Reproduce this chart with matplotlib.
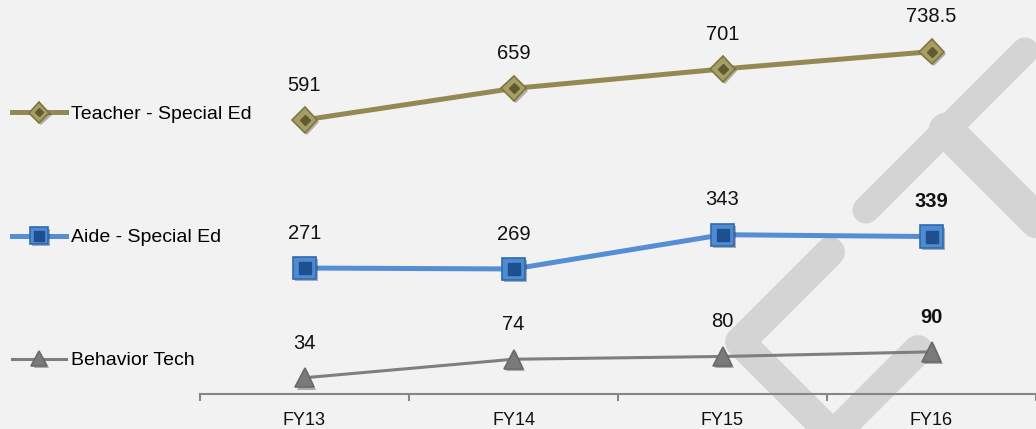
import matplotlib
matplotlib.use("Agg")
import matplotlib.pyplot as plt
import matplotlib.patheffects as pe
from matplotlib.lines import Line2D
from matplotlib.legend_handler import HandlerTuple

# ------------------------------------------------------------------
# DATA
years    = ["FY13", "FY14", "FY15", "FY16"]
teacher  = [591, 659, 701, 738.5]
aide     = [271, 269, 343, 339]
behavior = [34, 74, 80, 90]
names    = ["Teacher - Special Ed", "Aide - Special Ed", "Behavior Tech"]
# ------------------------------------------------------------------

plt.rcParams["font.family"] = ["Liberation Sans", "DejaVu Sans"]

W, H = 1036, 429
fig = plt.figure(figsize=(W / 100, H / 100), dpi=100, facecolor="#f2f2f2")

# watermark strokes (figure pixels), drawn behind the chart
def px(pts):
    return [p[0] / W for p in pts], [1 - p[1] / H for p in pts]

wm_strokes = [
    ([(830, 252), (740, 342), (833, 435), (918, 350)], 21.5),
    ([(866, 210), (1025, 51)], 19.5),
    ([(946, 130), (1110, 294)], 25),
]
for pts, lw in wm_strokes:
    xs, ys = px(pts)
    fig.add_artist(Line2D(xs, ys, transform=fig.transFigure, color="#d4d4d4",
                          lw=lw, solid_capstyle="round", solid_joinstyle="round",
                          zorder=-1))

ax = fig.add_axes([200 / W, 1 - 393.5 / H, 836 / W, 393.5 / H])
ax.set_facecolor("none")
ax.set_xlim(-0.5, -0.5 + 836 / 210.6)
ax.set_ylim(0, 850)

x = range(len(years))
shadow = [pe.SimplePatchShadow(offset=(1.5, -1.5), alpha=0.35), pe.Normal()]

styles = [
    dict(data=teacher, color="#938953", lw=3.6, marker="D", ms=13,
         mfc="#a69e64", mec="#7d7640", inner="#5f5a32", ims=5.5),
    dict(data=aide, color="#558ed5", lw=3.6, marker="s", ms=16,
         mfc="#4f8bd3", mec="#2f6aae", inner="#1f4f8e", ims=9),
    dict(data=behavior, color="#7f7f7f", lw=2.2, marker="^", ms=14,
         mfc="#7a7a7a", mec="#6a6a6a", inner=None, ims=0),
]

handles = []
for name, st in zip(names, styles):
    ln, = ax.plot(x, st["data"], color=st["color"], lw=st["lw"], zorder=3)
    mk, = ax.plot(x, st["data"], ls="none", marker=st["marker"], ms=st["ms"],
                  mfc=st["mfc"], mec=st["mec"], mew=1.2, zorder=4,
                  path_effects=shadow, clip_on=False)
    parts = [ln, mk]
    if st["inner"]:
        inn, = ax.plot(x, st["data"], ls="none", marker=st["marker"],
                       ms=st["ims"], mfc=st["inner"], mec=st["inner"], zorder=5,
                       clip_on=False)
        parts.append(inn)
    handles.append(tuple(parts))

    for i, v in enumerate(st["data"]):
        bold = (i == len(years) - 1) and name != names[0]
        ax.annotate("{:g}".format(v), (i, v), xytext=(0, 25),
                    textcoords="offset points", ha="center", va="center",
                    fontsize=14.5, color="#111111",
                    fontweight="bold" if bold else "normal")

# axis styling
for s in ["left", "right", "top"]:
    ax.spines[s].set_visible(False)
ax.spines["bottom"].set_color("#868686")
ax.spines["bottom"].set_linewidth(1.5)
ax.set_yticks([])
ax.set_xticks(list(x))
ax.set_xticklabels(years, fontsize=13, color="#111111")
ax.set_xticks([-0.5, 0.5, 1.5, 2.5, 3.5], minor=True)
ax.tick_params(axis="x", which="major", length=0, pad=13)
ax.tick_params(axis="x", which="minor", length=5, width=1.5, color="#868686",
               direction="out")

fig.legend(handles, names, loc="center left",
           bbox_to_anchor=(12 / W, 1 - 237.5 / H), frameon=False,
           fontsize=14, handlelength=2.8, handletextpad=0.25, markerscale=0.8,
           borderpad=0, borderaxespad=0, labelspacing=5.42,
           handler_map={tuple: HandlerTuple(ndivide=1, pad=0)})

fig.savefig("out.png", dpi=100, facecolor=fig.get_facecolor())
